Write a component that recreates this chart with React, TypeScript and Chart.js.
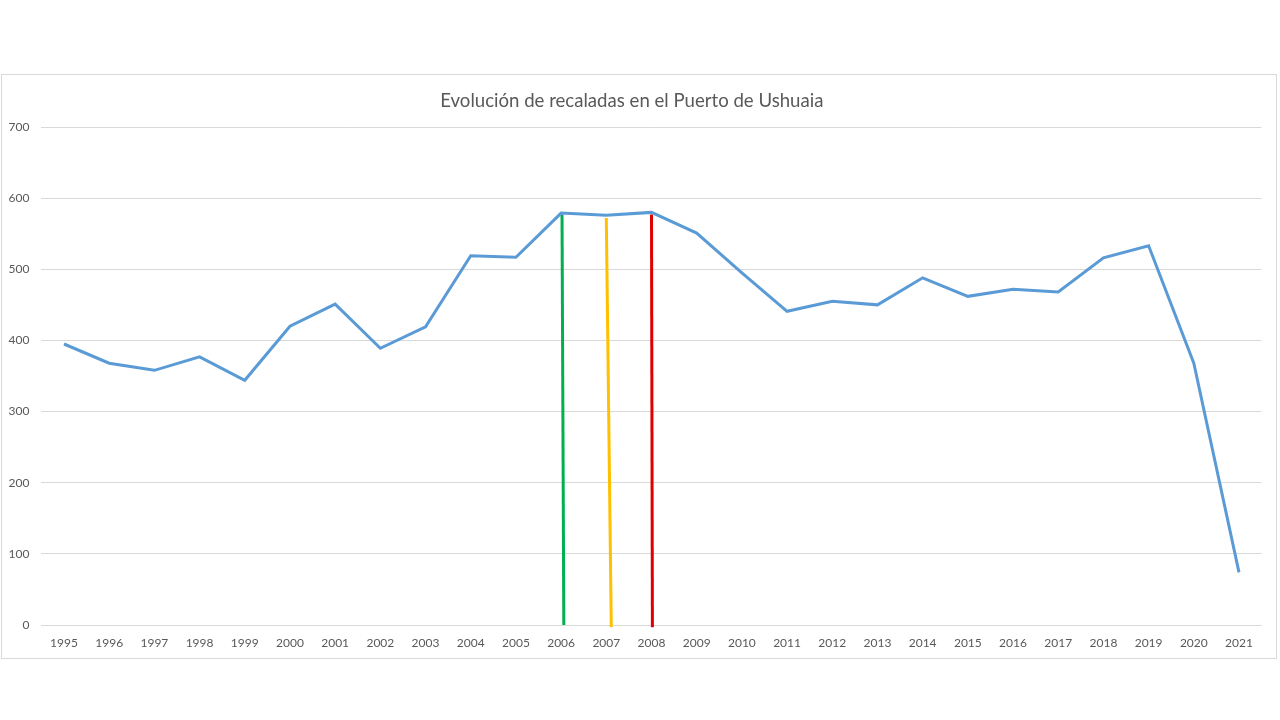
import React, { useEffect, useRef } from "react";
import { Chart, registerables } from "chart.js";

Chart.register(...registerables);

const years = [1995, 1996, 1997, 1998, 1999, 2000, 2001, 2002, 2003, 2004, 2005, 2006, 2007, 2008, 2009, 2010, 2011, 2012, 2013, 2014, 2015, 2016, 2017, 2018, 2019, 2020, 2021];
const recaladas = [395, 368, 358, 377, 344, 420, 451, 389, 419, 519, 517, 579, 576, 580, 551, 495, 441, 455, 450, 488, 462, 472, 468, 516, 533, 368, 74];
const yTicks = [0, 100, 200, 300, 400, 500, 600, 700];

const greenMarkX = [2006.02, 2006.06];
const greenMarkY = [577, 0];
const yellowMarkX = [2007.0, 2007.11];
const yellowMarkY = [572, -3];
const redMarkX = [2008.0, 2008.02];
const redMarkY = [577, -3];

const title = "Evolución de recaladas en el Puerto de Ushuaia";
const FONT = "Lato, 'Open Sans', sans-serif";

const pts = (xs: number[], ys: number[]) => xs.map((x, i) => ({ x, y: ys[i] }));

export default function App() {
  const ref = useRef<HTMLCanvasElement | null>(null);
  useEffect(() => {
    document.body.style.margin = "0";
    const ctx = ref.current!;
    const chart = new Chart(ctx, {
      type: "line",
      data: {
        datasets: [
          {
            label: "Recaladas",
            data: pts(years, recaladas),
            borderColor: "#5B9BD5",
            borderWidth: 3,
            pointRadius: 0,
            tension: 0,
            order: 0,
          },
          {
            label: "g",
            data: pts(greenMarkX, greenMarkY),
            borderColor: "#00B050",
            borderWidth: 3,
            pointRadius: 0,
            clip: false,
            order: 1,
          },
          {
            label: "y",
            data: pts(yellowMarkX, yellowMarkY),
            borderColor: "#FFC000",
            borderWidth: 3,
            pointRadius: 0,
            clip: false,
            order: 1,
          },
          {
            label: "r",
            data: pts(redMarkX, redMarkY),
            borderColor: "#E00000",
            borderWidth: 3,
            pointRadius: 0,
            clip: false,
            order: 1,
          },
        ],
      },
      options: {
        animation: false,
        responsive: false,
        maintainAspectRatio: false,
        layout: { padding: { left: 0, right: 14.4, top: 0, bottom: 0 } },
        plugins: {
          legend: { display: false },
          tooltip: { enabled: false },
          title: {
            display: true,
            text: title,
            color: "#595959",
            font: { family: FONT, size: 18.6, weight: "normal" },
            padding: { top: 14.7, bottom: 15 },
          },
        },
        scales: {
          x: {
            type: "linear",
            min: 1994.5,
            max: 2021.5,
            afterBuildTicks: (scale: any) => {
              scale.ticks = years.map((v) => ({ value: v }));
            },
            afterFit: (scale: any) => {
              scale.height = 33;
            },
            grid: { display: false },
            border: { display: false },
            ticks: {
              color: "#595959",
              font: { family: FONT, size: 12 },
              padding: 3,
              maxRotation: 0,
              autoSkip: false,
              callback: (v: any) => String(v),
            },
          },
          y: {
            min: 0,
            max: 700,
            afterBuildTicks: (scale: any) => {
              scale.ticks = yTicks.map((v) => ({ value: v }));
            },
            afterFit: (scale: any) => {
              scale.width = 39.4;
            },
            grid: { color: "#D9D9D9", drawTicks: false, lineWidth: 1 },
            border: { display: false },
            ticks: {
              color: "#595959",
              font: { family: FONT, size: 12 },
              padding: 12,
            },
          },
        },
      },
    } as any);
    return () => chart.destroy();
  }, []);

  return (
    <div
      style={{
        position: "absolute",
        left: 1,
        top: 74,
        width: 1276,
        height: 585,
        border: "1px solid #D9D9D9",
        boxSizing: "border-box",
        background: "#fff",
      }}
    >
      <canvas ref={ref} width={1274} height={583} style={{ display: "block", width: 1274, height: 583 }} />
    </div>
  );
}
